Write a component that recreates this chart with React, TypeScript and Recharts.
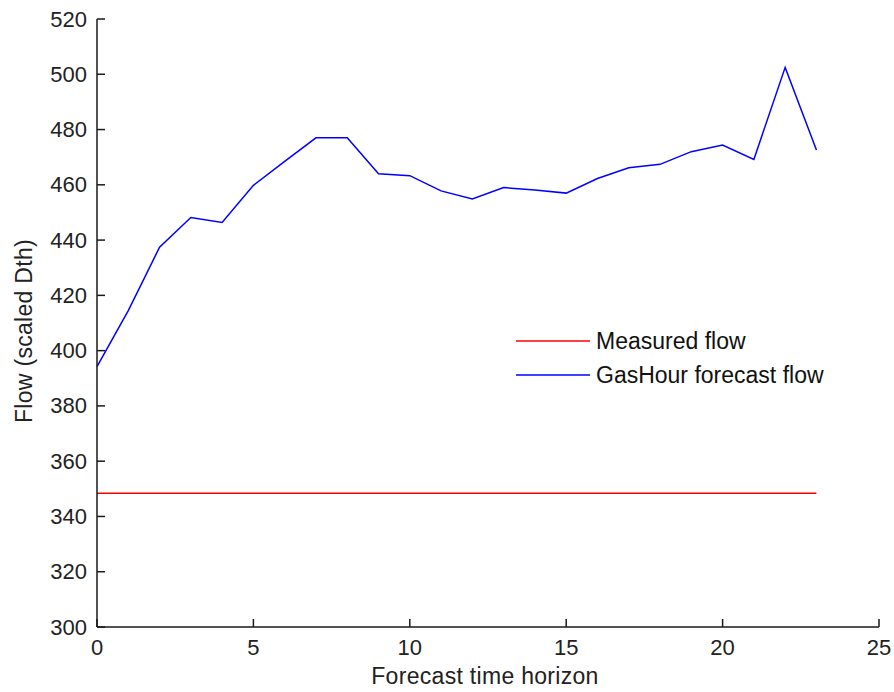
import React from 'react';
import { LineChart, Line, XAxis, YAxis, Legend } from 'recharts';

// Forecast horizon (hours ahead) and the two flow series
const hours = [0, 1, 2, 3, 4, 5, 6, 7, 8, 9, 10, 11, 12, 13, 14, 15, 16, 17, 18, 19, 20, 21, 22, 23];
const measuredFlow = [
  348.4, 348.4, 348.4, 348.4, 348.4, 348.4, 348.4, 348.4, 348.4, 348.4, 348.4, 348.4,
  348.4, 348.4, 348.4, 348.4, 348.4, 348.4, 348.4, 348.4, 348.4, 348.4, 348.4, 348.4,
];
const forecastFlow = [
  394.2, 414.5, 437.4, 448.2, 446.4, 459.8, 468.5, 477, 477, 464, 463.3, 457.8,
  454.9, 459, 458.1, 457, 462.3, 466.2, 467.4, 472, 474.4, 469.2, 502.5, 472.6,
];
const xTicks = [0, 5, 10, 15, 20, 25];
const yTicks = [300, 320, 340, 360, 380, 400, 420, 440, 460, 480, 500, 520];
const legendOrder = ['Measured flow', 'GasHour forecast flow'];

const data = hours.map((h, i) => ({ hour: h, measured: measuredFlow[i], forecast: forecastFlow[i] }));

const FONT = '"Liberation Sans", Arial, sans-serif';
const AXIS = '#1a1a1a';
const TICK_LEN = 8;

function XTick(props: any) {
  const { x, y, payload } = props;
  return (
    <g>
      <line x1={x} x2={x} y1={y} y2={y - TICK_LEN} stroke={AXIS} strokeWidth={1.5} />
      <text x={x} y={y + 20} textAnchor="middle" dominantBaseline="central" fontFamily={FONT} fontSize={22} fill="#222">
        {payload.value}
      </text>
    </g>
  );
}

function YTick(props: any) {
  const { x, y, payload } = props;
  return (
    <g>
      <line x1={x} x2={x + TICK_LEN} y1={y} y2={y} stroke={AXIS} strokeWidth={1.5} />
      <text x={x - 10} y={y} textAnchor="end" dominantBaseline="central" fontFamily={FONT} fontSize={22} fill="#222">
        {payload.value}
      </text>
    </g>
  );
}

function FlowLegend({ payload }: any) {
  const items = [...(payload || [])].sort(
    (a: any, b: any) => legendOrder.indexOf(a.value) - legendOrder.indexOf(b.value)
  );
  return (
    <div style={{ fontFamily: FONT, fontSize: 23, color: '#111' }}>
      {items.map((entry: any) => (
        <div key={entry.value} style={{ display: 'flex', alignItems: 'center', height: 34 }}>
          <svg width={74} height={4} style={{ marginRight: 6 }}>
            <line x1={0} x2={74} y1={2} y2={2} stroke={entry.color} strokeWidth={1.5} />
          </svg>
          <span>{entry.value}</span>
        </div>
      ))}
    </div>
  );
}

export default function App() {
  return (
    <div style={{ position: 'absolute', left: 0, top: 0, background: '#fff' }}>
      <LineChart width={894} height={692} data={data} margin={{ top: 19, right: 15, left: 0, bottom: 0 }}>
        <XAxis
          dataKey="hour"
          type="number"
          domain={[0, 25]}
          ticks={xTicks}
          height={65}
          tickSize={0}
          tickMargin={0}
          tickLine={false}
          tick={<XTick />}
          stroke={AXIS}
          strokeWidth={1.5}
          label={{
            content: ({ viewBox }: any) => (
              <text
                x={viewBox.x + viewBox.width / 2 - 3}
                y={viewBox.y + 49}
                textAnchor="middle"
                dominantBaseline="central"
                fontFamily={FONT}
                fontSize={23}
                letterSpacing={0.3}
                fill="#222"
              >
                Forecast time horizon
              </text>
            ),
          }}
        />
        <YAxis
          type="number"
          domain={[300, 520]}
          ticks={yTicks}
          width={97}
          tickSize={0}
          tickMargin={0}
          tickLine={false}
          tick={<YTick />}
          stroke={AXIS}
          strokeWidth={1.5}
          label={{
            content: ({ viewBox }: any) => {
              const cx = 24;
              const cy = viewBox.y + viewBox.height / 2 + 8;
              return (
                <text
                  x={cx}
                  y={cy}
                  transform={`rotate(-90 ${cx} ${cy})`}
                  textAnchor="middle"
                  dominantBaseline="central"
                  fontFamily={FONT}
                  fontSize={23}
                  letterSpacing={0.3}
                  fill="#222"
                >
                  Flow (scaled Dth)
                </text>
              );
            },
          }}
        />
        <Legend
          layout="vertical"
          align="center"
          verticalAlign="middle"
          content={<FlowLegend />}
          wrapperStyle={{ position: 'absolute', left: 516, top: 324, width: 330 }}
        />
        <Line
          dataKey="measured"
          name="Measured flow"
          stroke="#ff0000"
          strokeWidth={1.5}
          dot={false}
          isAnimationActive={false}
        />
        <Line
          dataKey="forecast"
          name="GasHour forecast flow"
          stroke="#0000ff"
          strokeWidth={1.5}
          dot={false}
          isAnimationActive={false}
        />
      </LineChart>
    </div>
  );
}
